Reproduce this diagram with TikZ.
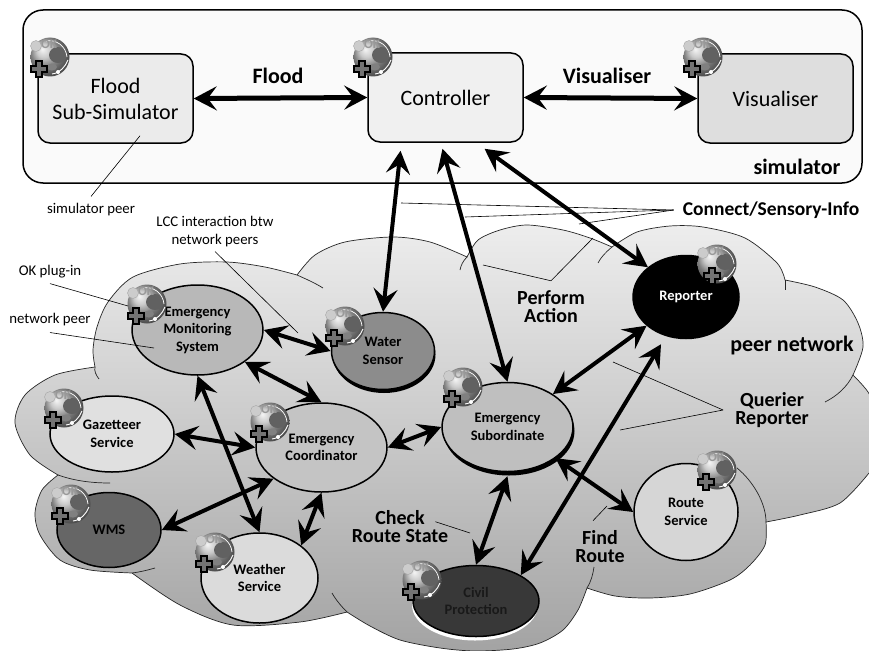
\documentclass[tikz,border=0pt]{standalone}
\usepackage{fontspec}
\setmainfont{Carlito}
\usepackage{tikz}
\usetikzlibrary{arrows.meta,calc,positioning,shapes.geometric,shadows}

\tikzset{
  pics/okglobe/.default=-11,
  pics/okglobe/.style={code={
    \shade[ball color=black!28] (0,0) circle (19.5);
    \fill[black!62] (8,-2) ellipse (9 and 8);
    \fill[black!50] (2,10) ellipse (5 and 3.5);
    \draw[white,line width=.7] (-4,-16) .. controls (6,-18) and (16,-11) .. (17,0);
    \draw[white,line width=.9] (2,17) .. controls (10,16) and (15,10) .. (18,3);
    \fill[white] (8,15) circle (2);
    \fill[black!20,draw=black!35] (-14,-11) circle (5.5);
    \node at (-1,-13) [text=black!40,font=\bfseries\fontsize{13}{13}\selectfont,inner sep=0] (oktext) {OK};
    \draw[line width=2,fill=black!55,shift={(#1,12)}] (-3,-8) -- (3,-8) -- (3,-3) -- (8,-3)
      -- (8,3) -- (3,3) -- (3,8) -- (-3,8) -- (-3,3) -- (-8,3) -- (-8,-3) -- (-3,-3) -- cycle;
  }}
}

\begin{document}
\begin{tikzpicture}[x=1pt,y=-1pt,
    simbox/.style={draw,rectangle,rounded corners=12,line width=1.5,minimum width=155,minimum height=89,
      align=center,font=\fontsize{22}{26}\selectfont},
    peer/.style={draw,ellipse,line width=1.5,inner sep=0,align=center,
      font=\bfseries\fontsize{14.5}{17.5}\selectfont},
    tag/.style={align=center,inner sep=0,font=\fontsize{14.8}{18}\selectfont},
    boldtag/.style={align=center,inner sep=0,font=\bfseries\fontsize{20}{18}\selectfont},
    simtag/.style={boldtag,font=\bfseries\fontsize{22}{24}\selectfont},
    biarrow/.style={{Stealth[length=23,width=24,inset=9]}-{Stealth[length=23,width=24,inset=9]},line width=4},
    leader/.style={line width=.6},
    cloudline/.style={line width=.7,black!85}]
    \useasboundingbox (0,0) rectangle (869,650);
    \fill[white] (0,0) rectangle (869,650);

    % the peer network cloud
    \shade[top color=black!7,bottom color=black!36,draw=black!85,line width=.7]
      plot[smooth] coordinates {(95,367) (93,350) (97,327) (108,302) (133,277) (180,264) (227,262) (265,267) (297,275)}
      -- plot[smooth] coordinates {(297,275) (315,255) (345,242) (393,237) (430,242) (467,257)}
      -- plot[smooth] coordinates {(467,257) (478,240) (500,230) (527,225) (563,230) (590,238) (612,247)}
      -- plot[smooth] coordinates {(612,247) (637,232) (670,226) (703,227) (745,238) (777,263) (785,280)}
      -- plot[smooth] coordinates {(785,280) (815,287) (843,300) (858,323) (863,347) (853,375)}
      -- plot[smooth] coordinates {(853,375) (868,392) (876,412) (876,460) (869,473)}
      -- plot[smooth] coordinates {(869,473) (840,503) (800,515) (766,522)}
      -- plot[smooth] coordinates {(766,522) (765,545) (750,565) (730,580) (690,594) (650,598) (615,596) (587,588)}
      -- plot[smooth] coordinates {(587,588) (578,610) (563,630) (540,643) (513,649) (475,651) (440,648) (400,640) (370,626) (347,612)}
      -- plot[smooth] coordinates {(347,612) (300,622) (233,625) (180,605) (132,573)}
      -- plot[smooth] coordinates {(132,573) (90,570) (60,560) (40,535) (35,513) (42,490) (58,475)}
      -- plot[smooth] coordinates {(58,475) (30,455) (15,423) (25,395) (55,375) (95,367)}
      -- cycle;
    \draw[cloudline] (297,275) .. controls (306,279) and (315,283) .. (323,288);
    \draw[cloudline] (467,257) .. controls (463,261) and (461,265) .. (460,270);
    \draw[cloudline] (612,247) .. controls (606,252) and (601,257) .. (598,263);
    \draw[cloudline] (785,280) -- (785,290);
    \draw[cloudline] (853,375) .. controls (847,387) and (837,396) .. (825,402);
    \draw[cloudline] (766,522) .. controls (766,504) and (754,482) .. (737,468);
    \draw[cloudline] (587,588) .. controls (591,582) and (593,574) .. (594,567);
    \draw[cloudline] (347,612) .. controls (341,606) and (336,600) .. (332,593);
    \draw[cloudline] (132,573) .. controls (140,572) and (148,570) .. (155,568);
    \draw[cloudline] (58,475) .. controls (75,481) and (92,483) .. (110,483);
    \draw[cloudline] (95,367) .. controls (94,371) and (96,375) .. (99,379);

    % the simulator
    \node at (442.5,96.5) [draw,rectangle,rounded corners=20,line width=1.5,fill=black!2,
      minimum width=839,minimum height=173] (simulator) {};
    \node at (115.5,98.5) [simbox,fill=black!8] (flood) {Flood\\Sub-Simulator};
    \node at (445.5,97.5) [simbox,fill=black!6] (controller) {Controller};
    \node at (775.5,98.5) [simbox,fill=black!13] (visualiser) {Visualiser};

    % the peers
    \node at (197.5,330) [peer,fill=black!28,minimum width=131,minimum height=90] (monitoring) {Emergency\\Monitoring\\System};
    \node at (383,351) [peer,fill=black!45,minimum width=103,minimum height=77,
      general shadow={fill=black,shadow yshift=3.5,shadow xshift=1}] (water) {Water\\Sensor};
    \node at (112,434) [peer,fill=black!12,minimum width=124,minimum height=76] (gazetteer) {Gazetteer\\Service};
    \node at (321.5,447.5) [peer,fill=black!23,minimum width=131,minimum height=89] (coordinator) {Emergency\\Coordinator};
    \node at (109,530) [peer,fill=black!60,minimum width=104,minimum height=75] (wms) {WMS};
    \node at (259.5,578) [peer,fill=black!14,minimum width=117,minimum height=90] (weather) {Weather\\Service};
    \node at (507.5,427) [peer,fill=black!25,minimum width=131,minimum height=89,
      general shadow={fill=black,shadow yshift=4,shadow xshift=1.5}] (subordinate) {Emergency\\Subordinate};
    \node at (476,601) [peer,fill=black!78,minimum width=126,minimum height=71,text=black!90,
      general shadow={fill=white,shadow yshift=4,shadow xshift=-1}] (civil) {Civil\\Protection};
    \node at (686,512) [peer,fill=black!16,minimum width=104,minimum height=97] (route) {Route\\Service};
    \node at (686,297) [peer,fill=black,text=white,minimum width=106,minimum height=83] (reporter) {Reporter};

    % the interactions
    \draw[biarrow,line width=5] (flood.east) -- (controller.west);
    \draw[biarrow,line width=5] (controller.east) -- (visualiser.west);
    \draw[biarrow] ([xshift=-45,yshift=-8] controller.south) -- (water.north);
    \draw[biarrow] ([xshift=-3,yshift=-6] controller.south) -- (subordinate.north);
    \draw[biarrow] ([xshift=39,yshift=-6] controller.south) -- (reporter.142);
    \draw[biarrow] (monitoring.east) -- (water.west);
    \draw[biarrow] (monitoring.-34) -- (coordinator.north);
    \draw[biarrow] (monitoring.south) -- (weather.north);
    \draw[biarrow] (gazetteer.east) -- (coordinator.west);
    \draw[biarrow] (wms.east) -- (coordinator.213);
    \draw[biarrow] (coordinator.south) -- (weather.38);
    \draw[biarrow] (coordinator.east) -- (subordinate.west);
    \draw[biarrow] (subordinate.36) -- (reporter.216);
    \draw[biarrow] ([xshift=-25,yshift=-5] reporter.south) -- (civil.30);
    \draw[biarrow] ([yshift=-4] subordinate.south) -- (civil.north);
    \draw[biarrow] (subordinate.-33) -- (route.west);

    % the plug-ins
    \pic at (50,57) {okglobe};
    \pic at (373,57) {okglobe};
    \pic at (703,57) {okglobe};
    \pic at (147,304) {okglobe};
    \pic at (345,326) {okglobe};
    \pic at (64,408) {okglobe};
    \pic at (270,422) {okglobe};
    \pic at (71,504) {okglobe};
    \pic at (215,552) {okglobe};
    \pic at (422,580) {okglobe};
    \pic at (463,387) {okglobe};
    \pic at (717,470) {okglobe};
    \pic at (717,264) {okglobe=-5};

    % the labels
    \node at (278,76) [simtag] (floodtag) {Flood};
    \node at (607,76) [simtag] (visualisertag) {Visualiser};
    \node at (797,167) [simtag] (simulatortag) {simulator};
    \node at (771,210) [boldtag,font=\bfseries\fontsize{19.5}{18}\selectfont] (connect) {Connect/Sensory-Info};
    \node at (551,307) [boldtag] (perform) {Perform\\Action};
    \node at (792,346) [simtag] (peernetwork) {peer network};
    \node at (772,410) [boldtag] (querier) {Querier\\Reporter};
    \node at (400,527) [boldtag] (check) {Check\\Route State};
    \node at (600,547) [boldtag] (find) {Find\\Route};
    \node at (91,210) [tag] (simpeertag) {simulator peer};
    \node at (215,232) [tag] (lcc) {LCC interaction btw\\network peers};
    \node at (50,272) [tag] (plugin) {OK plug-in};
    \node at (50,320) [tag] (netpeertag) {network peer};

    % the leader lines
    \draw[leader] ([yshift=7] simpeertag.north) -- ([xshift=24.5,yshift=8] flood.south);
    \draw[leader] ([yshift=-5] plugin.south) -- (128,306);
    \draw[leader] ([yshift=-6] netpeertag.south) -- (154,348);
    \draw[leader] ([yshift=-4] lcc.south) -- (298,333);
    \draw[leader] ([xshift=-9] connect.west) -- (401,203);
    \draw[leader] ([xshift=-9] connect.west) -- (465,217);
    \draw[leader] ([xshift=-9] connect.west) -- (579,224);
    \draw[leader] (483,265) -- ([yshift=10] perform.north) -- (593,238);
    \draw[leader] ([xshift=-12] querier.west) -- (613,362);
    \draw[leader] ([xshift=-12] querier.west) -- (620,430);
    \draw[leader] ([xshift=-13,yshift=-11] check.north east) -- (470,533);
    \draw[leader] ([xshift=-7,yshift=10] find.north) -- (607,506);
\end{tikzpicture}
\end{document}
